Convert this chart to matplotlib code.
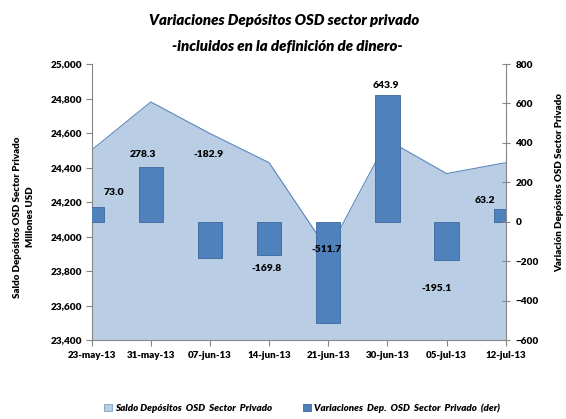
import numpy as np
import matplotlib
matplotlib.use('Agg')
from matplotlib import pyplot as plt
from matplotlib.patches import Patch

plt.rcParams['font.family'] = ['Lato', 'DejaVu Sans']

dates = ['23-may-13', '31-may-13', '07-jun-13', '14-jun-13',
         '21-jun-13', '30-jun-13', '05-jul-13', '12-jul-13']
saldo = [24502, 24780, 24597, 24428, 23916, 24560, 24365, 24428]
variacion = [73.0, 278.3, -182.9, -169.8, -511.7, 643.9, -195.1, 63.2]

# where Excel left the data labels (category index, right axis value)
label_x = [0.37, 0.87, 1.98, 2.96, 3.97, 4.98, 5.84, 6.64]
label_y = [147, 343, 343, -238, -140, 693, -341, 110]

area_col = '#b9cde5'
bar_col = '#4f81bd'
grey = '#868686'
wt = 'heavy'

x = np.arange(len(dates))

fig = plt.figure(figsize=(5.66, 4.19), dpi=100)
ax1 = fig.add_axes([0.162, 0.1885, 0.7315, 0.6587])
ax2 = ax1.twinx()

ax1.fill_between(x, saldo, 23400, color=area_col, lw=0)
ax1.plot(x, saldo, color='#5b86bd', lw=0.8)
ax1.set_ylim(23400, 25000)
ax1.set_yticks(np.arange(23400, 25001, 200))
ax1.set_yticklabels([f'{v:,}' for v in range(23400, 25001, 200)])
ax1.set_xlim(0, 7)
ax1.set_xticks(x)
ax1.set_xticklabels(dates)

ax2.bar(x, variacion, width=0.41, color=bar_col, edgecolor='#3c679c', lw=0.6)
ax2.set_ylim(-600, 800)
ax2.set_yticks(np.arange(-600, 801, 200))

for lx, ly, v in zip(label_x, label_y, variacion):
    ax2.text(lx, ly, f'{v:.1f}', ha='center', va='center',
             fontsize=7.5, fontweight=wt, color='black')

for ax in (ax1, ax2):
    ax.spines['top'].set_visible(False)
    for s in ax.spines.values():
        s.set_color(grey)
        s.set_linewidth(0.8)
ax1.spines['right'].set_visible(False)
ax2.spines['left'].set_visible(False)
ax2.spines['bottom'].set_visible(False)

ax1.tick_params(axis='y', direction='out', length=4, color=grey, labelsize=7.2, pad=3)
ax1.tick_params(axis='x', direction='out', length=4, color=grey, labelsize=7, pad=4)
ax2.tick_params(axis='y', direction='inout', length=6, color=grey, labelsize=7.2, pad=4)
for lab in ax1.get_xticklabels() + ax1.get_yticklabels() + ax2.get_yticklabels():
    lab.set_fontweight(wt)

ax1.set_ylabel('Saldo Depósitos OSD Sector Privado\nMillones USD',
               fontsize=7, fontweight=wt, linespacing=1.5)
ax1.yaxis.set_label_coords(-0.137, 0.446)
ax2.set_ylabel('Variación Depósitos OSD Sector Privado',
               fontsize=7, fontweight=wt)
ax2.yaxis.set_label_coords(1.12, 0.572)

fig.text(0.502, 0.952, 'Variaciones Depósitos OSD sector privado',
         ha='center', va='center', fontsize=10.8, fontweight=wt, style='italic')
fig.text(0.507, 0.890, '-incluidos en la definición de dinero-',
         ha='center', va='center', fontsize=10.8, fontweight=wt, style='italic')

handles = [Patch(facecolor=area_col, edgecolor='#7f9fc8', lw=0.6),
           Patch(facecolor=bar_col, edgecolor='#3c679c', lw=0.6)]
fig.legend(handles, ['Saldo Depósitos  OSD  Sector  Privado',
                     'Variaciones  Dep.  OSD  Sector  Privado  (der)'],
           loc='center', bbox_to_anchor=(0.534, 0.026), ncol=2, frameon=False,
           prop={'size': 7, 'weight': wt, 'style': 'italic'},
           handlelength=0.8, handleheight=0.8, handletextpad=0.3, columnspacing=3.2)

fig.savefig('out.png', dpi=100)
